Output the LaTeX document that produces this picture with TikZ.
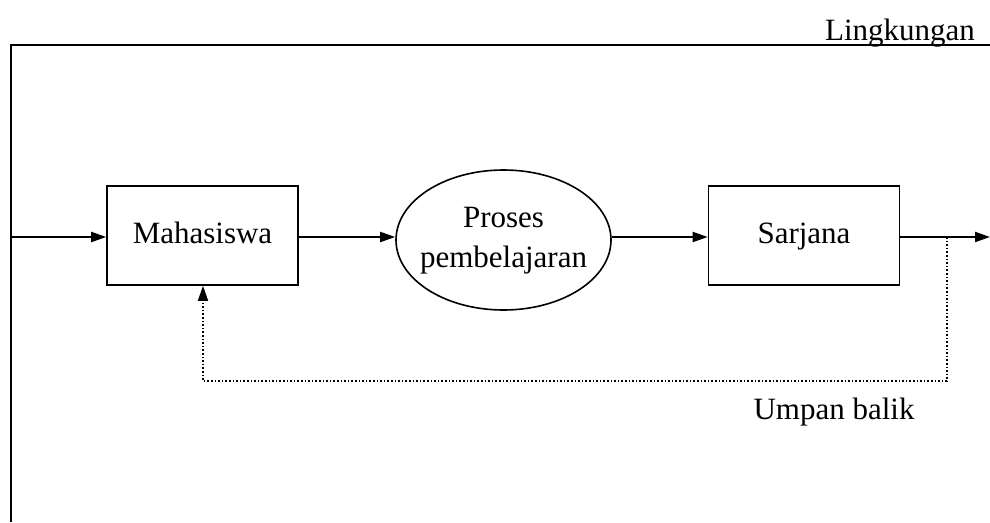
\documentclass[tikz,border=0pt]{standalone}
\usepackage{fontspec}
\setmainfont{Liberation Serif}
\usetikzlibrary{arrows.meta,shapes.geometric}
\begin{document}
\begin{tikzpicture}[x=1pt,y=-1pt,
  txt/.style={font=\fontsize{31}{40}\selectfont},
  boxnode/.style={draw,line width=1.6pt,minimum width=191pt,minimum height=99pt,inner sep=0pt,txt,text height=22pt,text depth=7pt},
  ellnode/.style={draw,ellipse,line width=1.6pt,minimum width=215pt,minimum height=140pt,inner sep=0pt},
  flow/.style={line width=2pt,-{Triangle[length=15pt,width=10pt]}},
  fb/.style={line width=1.6pt,dotted,-{Triangle[length=15pt,width=10pt]}},
  frame/.style={line width=2pt}]
\useasboundingbox (0,0) rectangle (990,522);
\coordinate (ftl) at (11,45);
\coordinate (fbl) at (11,522);
\coordinate (ftr) at (990,45);
\draw[frame] (fbl) -- (ftl) -- (ftr);
\node[txt,anchor=base] (env) at (900,40) {Lingkungan};
\node[boxnode] (mhs) at (202.5,235.5) {Mahasiswa};
\node[ellnode] (pro) at (503.5,240) {};
\node[txt,align=center] (prolbl) at (503.5,241) {Proses\\pembelajaran};
\node[boxnode] (srj) at (804,235.5) {Sarjana};
\coordinate (in) at (11,237);
\coordinate (out) at (990,237);
\coordinate (fb1) at (947,237);
\coordinate (fb2) at (947,381);
\coordinate (fb3) at (203,381);
\draw[flow] (in) -- (mhs.west |- in);
\draw[flow] (mhs.east |- in) -- (pro.west |- in);
\draw[flow] (pro.east |- in) -- (srj.west |- in);
\draw[flow] (srj.east |- in) -- (out);
\draw[fb] (fb1) -- (fb2) -- (fb3) -- (mhs.south -| fb3);
\node[txt] (ub) at (834,412) {Umpan balik};
\end{tikzpicture}
\end{document}
